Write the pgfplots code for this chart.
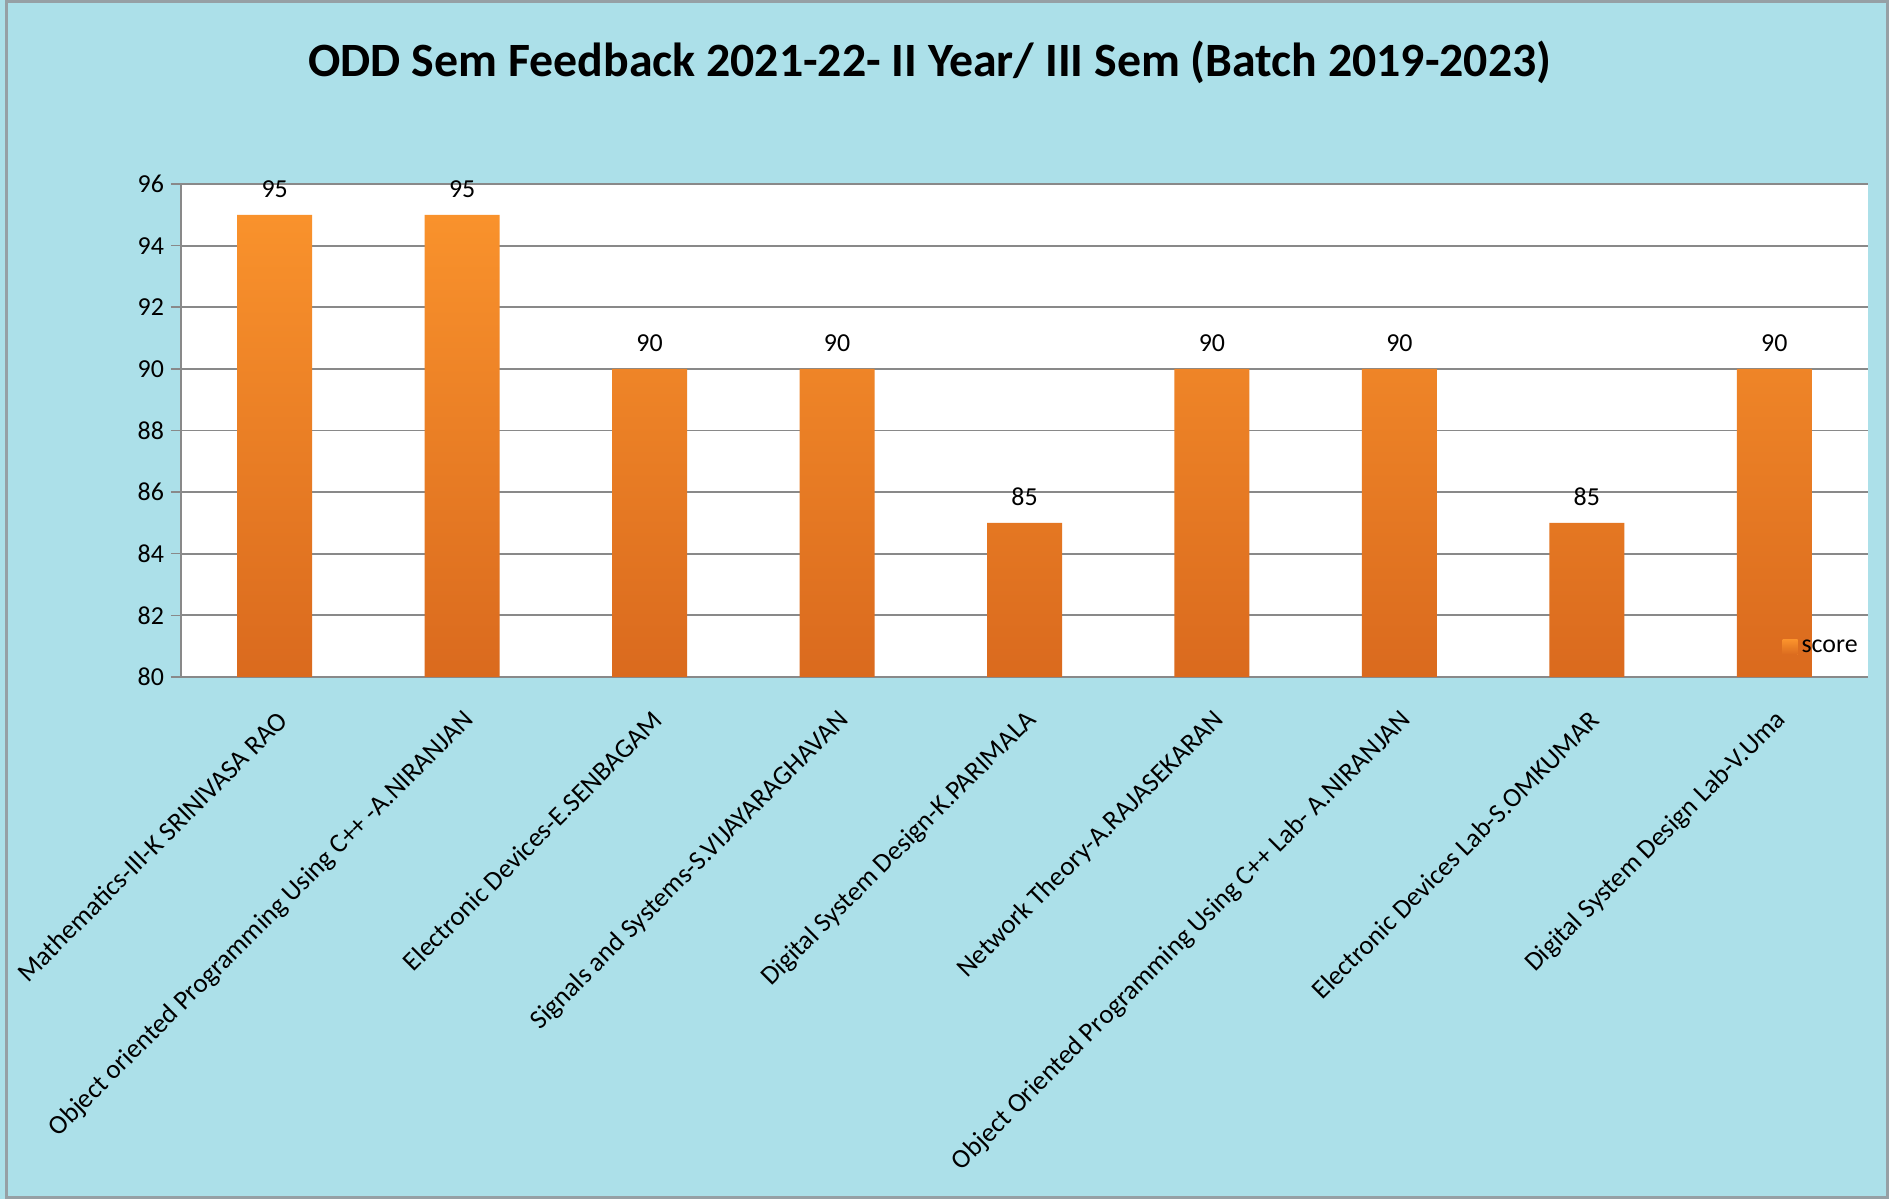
\documentclass[border=0pt]{standalone}
\usepackage{fontspec}
\setmainfont{Carlito}
\usepackage{pgfplots}
\pgfplotsset{compat=1.18}
\definecolor{bgblue}{RGB}{172,224,233}
\definecolor{framegray}{RGB}{150,160,165}
\definecolor{gridgray}{RGB}{137,137,137}
\definecolor{bartop}{RGB}{249,146,44}
\definecolor{barbot}{RGB}{218,106,30}
\begin{document}
\begin{tikzpicture}
\fill[bgblue] (0bp,0bp) rectangle (944.5bp,599.5bp);
\draw[framegray, line width=1.5bp] (3bp,0.75bp) rectangle (943.75bp,598.75bp);
\node[font=\fontsize{24}{28}\selectfont\bfseries] at (465bp,568.5bp) {ODD Sem Feedback 2021-22- II Year/ III Sem (Batch 2019-2023)};
\begin{axis}[
  at={(90.5bp,261bp)}, anchor=south west,
  scale only axis, width=843.5bp, height=246.5bp,
  axis background/.style={fill=white},
  xmin=-0.5, xmax=8.5, ymin=80, ymax=96,
  ytick={80,82,...,96},
  xtick={0,...,8},
  xticklabels={Mathematics-III-K SRINIVASA RAO,Object oriented Programming Using C++ -A.NIRANJAN,Electronic Devices-E.SENBAGAM,Signals and Systems-S.VIJAYARAGHAVAN,Digital System Design-K.PARIMALA,Network Theory-A.RAJASEKARAN,Object Oriented Programming Using C++ Lab- A.NIRANJAN,Electronic Devices Lab-S.OMKUMAR,Digital System Design Lab-V.Uma},
  x tick label style={rotate=45, anchor=east, font=\fontsize{13.5}{16}\selectfont, yshift=-13bp, xshift=-4bp},
  y tick label style={font=\fontsize{13}{16}\selectfont},
  /pgf/number format/assume math mode=true,
  major x tick style={draw=none},
  extra x ticks={-0.5,0.5,...,8.5},
  extra x tick labels={},
  extra x tick style={major tick length=5bp, tick style={draw=gridgray, line width=0.75bp}, grid=none},
  tick align=outside,
  major tick length=5bp,
  ytick style={draw=gridgray, line width=0.75bp},
  ymajorgrids,
  grid style={gridgray, line width=0.9bp},
  axis x line*=bottom, axis y line*=left,
  axis line style={gridgray, line width=1bp, -},
  ybar, bar width=37.5bp,
  nodes near coords,
  every node near coord/.append style={font=\fontsize{13}{16}\selectfont, black, yshift=5bp},
  legend style={at={(1.0,0.06)}, anchor=east, draw=none, fill=none, font=\fontsize{13}{16}\selectfont},
  legend image code/.code={\fill[bartop] (0bp,-3.75bp) rectangle (7.5bp,3.75bp);},
]
\addplot[draw=none, top color=bartop, bottom color=barbot] coordinates {(0,95) (1,95) (2,90) (3,90) (4,85) (5,90) (6,90) (7,85) (8,90)};
\addlegendentry{score}
\end{axis}
\end{tikzpicture}
\end{document}
